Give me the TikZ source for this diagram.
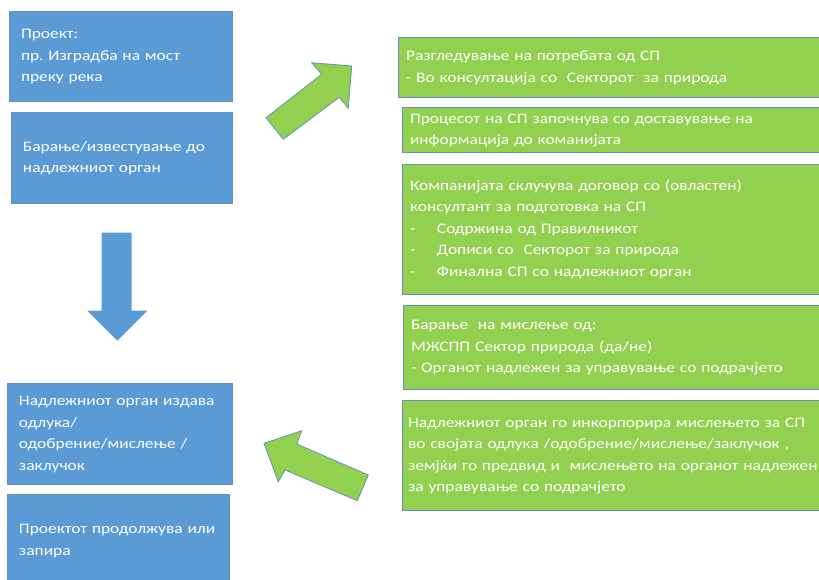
\documentclass[tikz,border=0pt]{standalone}
\usepackage{fontspec}
\setmainfont[FakeStretch=1.2]{Carlito}
\frenchspacing
\definecolor{boxblue}{HTML}{5B9BD5}
\definecolor{boxgreen}{HTML}{92D050}
\definecolor{edgeblue}{HTML}{6A8FB8}
\tikzset{
  basebox/.style={rectangle, anchor=north west, align=left, text=white, inner ysep=0pt, outer sep=0pt,
    font=\fontsize{14.5}{21.5}\selectfont, draw=edgeblue, line width=0.6pt},
  bluebox/.style={basebox, fill=boxblue, inner xsep=12pt},
  greenbox/.style={basebox, fill=boxgreen, inner xsep=8pt},
  greenarrow/.style={fill=boxgreen, draw=edgeblue, line width=0.8pt, line join=miter},
  bluearrow/.style={fill=boxblue, draw=none},
}
\newcommand{\dashitem}{\makebox[27pt][l]{-}}
\newcommand{\lns}[1]{\begin{tabular}{@{}l@{}}#1\end{tabular}}
\begin{document}
\begin{tikzpicture}[x=1pt, y=-1pt]
\useasboundingbox (0,0) rectangle (819,580);
% blue boxes
\node[bluebox, text width=199pt, minimum height=90pt] (b1) at (9,11)
  {\lns{Проект:\\пр. Изградба на мост\\преку река}};
\node[bluebox, text width=197pt, minimum height=91pt] (b2) at (11,112)
  {\lns{Барање/известување до\\надлежниот орган}};
\node[bluebox, text width=201pt, minimum height=101pt] (b3) at (7,383)
  {\lns{Надлежниот орган издава\\одлука/\\одобрение/мислење /\\заклучок}};
\node[bluebox, text width=198pt, minimum height=92pt] (b4) at (7,494)
  {\lns{Проектот продолжува или\\запира}};
% green boxes
\node[greenbox, text width=409pt, minimum height=60pt] (g1) at (398,37)
  {\lns{Разгледување на потребата од СП\\- Во консултација со~ Секторот~ за природа}};
\node[greenbox, text width=405pt, minimum height=45pt] (g2) at (402,107)
  {\lns{Процесот на СП започнува со доставување на\\информација до команијата}};
\node[greenbox, text width=405pt, minimum height=130pt] (g3) at (402,164)
  {\lns{Компанијата склучува договор со (овластен)\\консултант за подготовка на СП\\
   \dashitem Содржина од Правилникот\\\dashitem Дописи со~ Секторот за природа\\
   \dashitem Финална СП со надлежниот орган}};
\node[greenbox, text width=404pt, minimum height=84pt] (g4) at (403,305)
  {\lns{Барање~ на мислење од:\\МЖСПП Сектор природа (да/не)\\- Органот надлежен за управување со подрачјето}};
\node[greenbox, inner xsep=6pt, text width=409pt, minimum height=110pt] (g5) at (402,400)
  {\lns{Надлежниот орган го инкорпорира мислењето за СП\\во својата одлука /одобрение/мислење/заклучок ,\\
   земјќи го предвид и~ мислењето на органот надлежен\\за управување со подрачјето}};
% arrows
\draw[greenarrow] (266,117.7) -- (321.7,74.3) -- (311.7,62.7) -- (351.7,66) -- (348.3,108.3)
  -- (339.3,97.3) -- (283.3,139.3) -- cycle;
\fill[bluearrow] (101.7,232.7) -- (131.7,232.7) -- (131.7,310.7) -- (147.3,310.7) -- (117.3,340.7)
  -- (87.3,310.7) -- (101.7,310.7) -- cycle;
\draw[greenarrow] (264,443.3) -- (301.7,430.7) -- (296.7,444) -- (368.3,475) -- (357.3,500.7)
  -- (285,470) -- (278.3,481.7) -- cycle;
\end{tikzpicture}
\end{document}
